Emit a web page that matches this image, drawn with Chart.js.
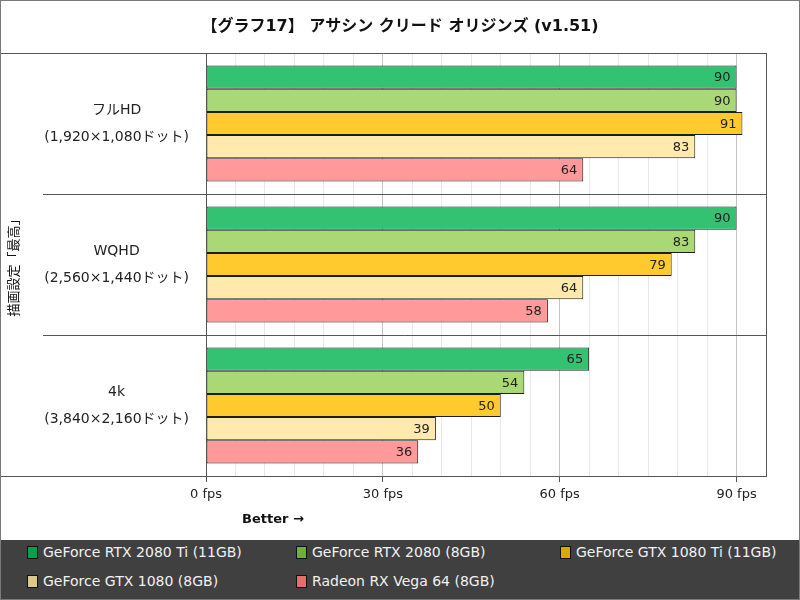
<!DOCTYPE html>
<html><head><meta charset="utf-8">
<script src="https://cdn.jsdelivr.net/npm/chart.js@4/dist/chart.umd.min.js"></script>
<style>
html,body{margin:0;padding:0;background:#fff;}
#wrap{position:relative;width:800px;height:600px;overflow:hidden;font-family:"DejaVu Sans","Noto Sans CJK JP",sans-serif;}
#c{position:absolute;left:0;top:0;}
#legend{position:absolute;left:0;top:540px;width:800px;height:60px;background:#404040;}
.li{position:absolute;color:#f2f2f2;font-size:14px;line-height:16px;white-space:nowrap;}
.li i{display:inline-block;width:9px;height:11px;border:1px solid #111;margin-right:5px;vertical-align:-2px;}
#frame{position:absolute;left:0;top:0;width:800px;height:600px;box-sizing:border-box;border:1px solid #7a7a7a;pointer-events:none;}
</style></head>
<body>
<div id="wrap">
<canvas id="c" width="800" height="540"></canvas>
<div id="legend"></div>
<div id="frame"></div>
</div>
<script>
const chartTitle = '【グラフ17】 アサシン クリード オリジンズ (v1.51)';
const yAxisTitle = '描画設定「最高」';
const xAxisNote = 'Better →';
const categories = [['フルHD','(1,920×1,080ドット)'],['WQHD','(2,560×1,440ドット)'],['4k','(3,840×2,160ドット)']];
const seriesNames = ['GeForce RTX 2080 Ti (11GB)','GeForce RTX 2080 (8GB)','GeForce GTX 1080 Ti (11GB)','GeForce GTX 1080 (8GB)','Radeon RX Vega 64 (8GB)'];
const rtx2080ti = [90, 90, 65];
const rtx2080 = [90, 83, 54];
const gtx1080ti = [91, 79, 50];
const gtx1080 = [83, 64, 39];
const vega64 = [64, 58, 36];
const xTickLabels = [0, 30, 60, 90];
const xUnit = ' fps';

const barColors = ['#33c172','#a9d874','#ffca2e','#ffe9ad','#ff999a'];
const legendColors = ['#00a04e','#72ae3e','#dca700','#dcc88e','#e07070'];
const seriesData = [rtx2080ti, rtx2080, gtx1080ti, gtx1080, vega64];

const FONT = '"DejaVu Sans","Noto Sans CJK JP",sans-serif';
const LINE = '#555555';

const framePlugin = {
  id: 'framePlugin',
  afterDraw(chart) {
    const {ctx, chartArea: ca, scales: {y}} = chart;
    ctx.save();
    ctx.strokeStyle = LINE;
    ctx.lineWidth = 1;
    const n = categories.length;
    for (let i = 0; i <= n; i++) {
      const py = Math.round(y.getPixelForValue(i - 0.5)) + 0.5;
      const x0 = (i === 0 || i === n) ? 0 : 43;
      ctx.beginPath(); ctx.moveTo(x0, py); ctx.lineTo(ca.right + 0.5, py); ctx.stroke();
    }
    ctx.beginPath();
    ctx.moveTo(Math.round(ca.left) + 0.5, ca.top); ctx.lineTo(Math.round(ca.left) + 0.5, ca.bottom);
    ctx.moveTo(Math.round(ca.right) + 0.5, ca.top); ctx.lineTo(Math.round(ca.right) + 0.5, ca.bottom);
    ctx.stroke();
    ctx.fillStyle = '#111';
    ctx.font = 'bold 13px ' + FONT;
    ctx.textAlign = 'left';
    ctx.textBaseline = 'middle';
    ctx.fillText(xAxisNote, ca.left + 36, ca.bottom + 44);
    ctx.restore();
  },
  afterDatasetsDraw(chart) {
    const {ctx} = chart;
    ctx.save();
    ctx.font = '13px ' + FONT;
    ctx.fillStyle = '#222';
    ctx.textAlign = 'right';
    ctx.textBaseline = 'middle';
    chart.data.datasets.forEach((ds, di) => {
      const meta = chart.getDatasetMeta(di);
      meta.data.forEach((bar, i) => {
        ctx.fillText(String(ds.data[i]), bar.x - 6, bar.y + 1);
      });
    });
    ctx.restore();
  }
};

new Chart(document.getElementById('c'), {
  type: 'bar',
  data: {
    labels: categories,
    datasets: seriesNames.map((name, i) => ({
      label: name,
      data: seriesData[i],
      backgroundColor: barColors[i],
      borderColor: '#1e1e1e',
      borderWidth: 1,
      borderSkipped: false,
      categoryPercentage: 0.823,
      barPercentage: 1.0
    }))
  },
  options: {
    indexAxis: 'y',
    responsive: false,
    animation: false,
    layout: { padding: { left: 0, right: 0, top: 0, bottom: 0 } },
    plugins: {
      legend: { display: false },
      tooltip: { enabled: false },
      title: {
        display: true,
        text: chartTitle,
        color: '#111',
        font: { family: FONT, size: 16, weight: 'bold', lineHeight: 1.2 },
        padding: { top: 17, bottom: 16.8 }
      }
    },
    scales: {
      x: {
        type: 'linear',
        min: 0, max: 95,
        afterFit(s) { s.height = 64; },
        border: { display: true, color: LINE, width: 1 },
        grid: {
          color: (c) => (c.tick && c.tick.value % 30 === 0) ? '#c4c4c4' : '#e8e8e8',
          drawTicks: true,
          tickLength: 6,
          tickColor: (c) => (c.tick && xTickLabels.includes(c.tick.value)) ? LINE : 'rgba(0,0,0,0)'
        },
        ticks: {
          stepSize: 5,
          autoSkip: false,
          maxRotation: 0,
          padding: 5,
          color: '#222',
          font: { family: FONT, size: 13 },
          callback: (v) => xTickLabels.includes(v) ? v + xUnit : ''
        }
      },
      y: {
        type: 'category',
        offset: true,
        afterFit(s) { s.width = 206; },
        border: { display: false },
        grid: { display: false, drawTicks: false },
        title: {
          display: true,
          text: yAxisTitle,
          color: '#111',
          font: { family: FONT, size: 13, lineHeight: 1.2 },
          padding: { top: 7, bottom: 0 }
        },
        ticks: {
          crossAlign: 'center',
          padding: 17,
          color: '#222',
          font: { family: FONT, size: 14, lineHeight: 1.93 }
        }
      },
      yRight: {
        type: 'category',
        axis: 'y',
        position: 'right',
        labels: categories.map(() => ''),
        afterFit(s) { s.width = 34; },
        border: { display: false },
        grid: { display: false, drawTicks: false },
        ticks: { display: false }
      }
    }
  },
  plugins: [framePlugin]
});

const legendEl = document.getElementById('legend');
const legendPos = [[27, 4], [296, 4], [560, 4], [27, 33], [296, 33]];
seriesNames.forEach((name, i) => {
  const d = document.createElement('div');
  d.className = 'li';
  d.style.left = legendPos[i][0] + 'px';
  d.style.top = legendPos[i][1] + 'px';
  const b = document.createElement('i');
  b.style.background = legendColors[i];
  d.appendChild(b);
  d.appendChild(document.createTextNode(name));
  legendEl.appendChild(d);
});
</script>
</body></html>
